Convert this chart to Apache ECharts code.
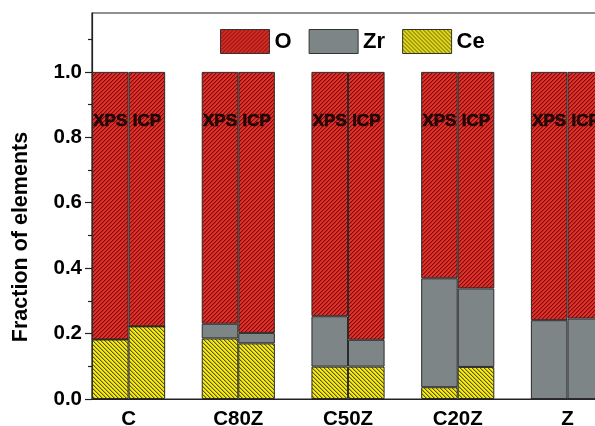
<!DOCTYPE html>
<html>
<head>
<meta charset="utf-8">
<script src="https://cdn.jsdelivr.net/npm/echarts@6/dist/echarts.min.js"></script>
<style>
html,body{margin:0;padding:0;background:#fff;}
#chart{width:595px;height:426px;}
</style>
</head>
<body>
<div id="chart"></div>
<script>
// ---- data ----
var categories = ['C', 'C80Z', 'C50Z', 'C20Z', 'Z'];
var methods = ['XPS', 'ICP'];
var ceXPS = [0.182, 0.185, 0.099, 0.036, 0];
var ceICP = [0.222, 0.170, 0.099, 0.098, 0];
var zrXPS = [0, 0.045, 0.154, 0.333, 0.241];
var zrICP = [0, 0.032, 0.082, 0.240, 0.246];
var oXPS = [0.818, 0.770, 0.747, 0.631, 0.759];
var oICP = [0.778, 0.798, 0.819, 0.662, 0.754];
var methodLabelY = 0.85;
var yTicks = [0, 0.2, 0.4, 0.6, 0.8, 1.0];

// ---- hatch patterns ----
function hatch(bg, fg, dir) {
  var c = document.createElement('canvas');
  c.width = 4; c.height = 4;
  var ctx = c.getContext('2d');
  ctx.fillStyle = bg; ctx.fillRect(0, 0, 4, 4);
  for (var x = 0; x < 4; x++) {
    for (var y = 0; y < 4; y++) {
      var k = dir > 0 ? (x + y) % 4 : ((x - y) % 4 + 4) % 4;
      if (k === 0) { ctx.fillStyle = fg; ctx.globalAlpha = 1; ctx.fillRect(x, y, 1, 1); }
      else if (k === 1) { ctx.fillStyle = fg; ctx.globalAlpha = 0.35; ctx.fillRect(x, y, 1, 1); }
    }
  }
  ctx.globalAlpha = 1;
  return { image: c, repeat: 'repeat' };
}
var oColor = hatch('#ec2c25', '#641412', 1);
var ceColor = hatch('#f4ea18', '#5e5810', -1);
var zrColor = '#7d8587';

// slots: for every category an XPS slot, an ICP slot and an empty gap slot
var slots = [];
categories.forEach(function (c) { slots.push(c + ' XPS', c + ' ICP', c + ' gap'); });
function slotData(xps, icp) {
  var out = [];
  categories.forEach(function (c, i) { out.push(xps[i], icp[i], null); });
  return out;
}
var labelData = [];
categories.forEach(function (c, i) { labelData.push(methodLabelY, methodLabelY, null); });
var catAt = {};
categories.forEach(function (c, i) { catAt[3 * i + 1] = c; });

var FONT = '"Liberation Sans", Arial, sans-serif';
var border = { borderColor: '#2b2b2b', borderWidth: 1 };

var chart = echarts.init(document.getElementById('chart'), null, { renderer: 'canvas' });
chart.setOption({
  animation: false,
  backgroundColor: '#fff',
  textStyle: { fontFamily: FONT },
  grid: {
    left: 92, top: 13, bottom: 27, width: 548.6,
    outerBoundsMode: 'none', containLabel: false,
    show: true, borderColor: '#222', borderWidth: 1.2, backgroundColor: 'transparent'
  },
  legend: {
    data: ['O', 'Zr', 'Ce'],
    left: 215, top: 24, icon: 'rect',
    itemWidth: 49, itemHeight: 24, itemGap: 17,
    textStyle: { fontFamily: FONT, fontWeight: 'bold', fontSize: 22, color: '#000' },
    itemStyle: { borderColor: '#333', borderWidth: 1 }
  },
  xAxis: [{
    type: 'category', data: slots, boundaryGap: true, position: 'bottom',
    axisLine: { show: true, lineStyle: { color: '#222', width: 1.2 } },
    axisTick: { show: false },
    axisLabel: { show: false },
    splitLine: { show: false }
  }, {
    type: 'value', min: 0, max: 15, interval: 1, position: 'bottom', offset: 0,
    axisLine: { show: false }, axisTick: { show: false }, splitLine: { show: false },
    axisLabel: {
      margin: 10,
      fontFamily: FONT, fontWeight: 'bold', fontSize: 20.5, color: '#000',
      formatter: function (v) { return catAt[Math.round(v)] || ''; }
    }
  }],
  yAxis: {
    type: 'value', min: 0, max: 1.18, interval: 0.2,
    name: 'Fraction of elements',
    nameLocation: 'middle', nameGap: 60,
    nameTextStyle: { fontFamily: FONT, fontWeight: 'bold', fontSize: 21.5, color: '#000', padding: [0, 62, 0, 0] },
    axisLine: { show: true, lineStyle: { color: '#222', width: 1.2 } },
    axisTick: { show: true, inside: false, length: 7, lineStyle: { color: '#222', width: 1.2 }, customValues: yTicks },
    minorTick: { show: true, splitNumber: 2, length: 4, lineStyle: { color: '#222', width: 1.2 } },
    splitLine: { show: false },
    axisLabel: {
      margin: 10,
      customValues: yTicks,
      fontFamily: FONT, fontWeight: 'bold', fontSize: 20.5, color: '#000',
      formatter: function (v) { return v.toFixed(1); }
    }
  },
  series: [
    { name: 'Ce', type: 'bar', stack: 'all', barWidth: '100%', data: slotData(ceXPS, ceICP),
      itemStyle: Object.assign({ color: ceColor }, border) },
    { name: 'Zr', type: 'bar', stack: 'all', barWidth: '100%', data: slotData(zrXPS, zrICP),
      itemStyle: Object.assign({ color: zrColor }, border) },
    { name: 'O', type: 'bar', stack: 'all', barWidth: '100%', data: slotData(oXPS, oICP),
      itemStyle: Object.assign({ color: oColor }, border) },
    { name: 'labels', type: 'scatter', data: labelData, symbolSize: 1, z: 10,
      itemStyle: { color: 'rgba(0,0,0,0)' }, silent: true,
      label: { show: true, position: 'inside', fontFamily: FONT, fontWeight: 'bold', fontSize: 17, color: '#000',
        textBorderColor: '#000', textBorderWidth: 0.6,
        formatter: function (p) { return methods[p.dataIndex % 3] || ''; } } }
  ]
});
</script>
</body>
</html>
